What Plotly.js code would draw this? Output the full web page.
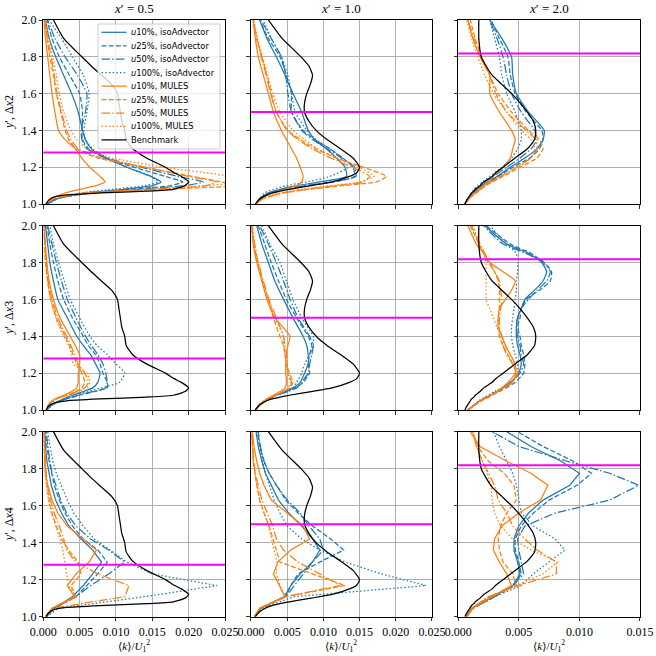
<!DOCTYPE html>
<html><head><meta charset="utf-8">
<script src="https://cdn.plot.ly/plotly-3.0.1.min.js"></script>
<style>html,body{margin:0;padding:0;background:#fff}#plot{width:656px;height:656px}</style>
</head><body><div id="plot"></div>
<script>
// ================= DATA =================
const columnLabels = ['0.5', '1.0', '2.0'];           // x'
const rowLabels = ['2', '3', '4'];                    // Δx
const probeLevels = [1.28, 1.5, 1.818];               // magenta line per column
const seriesNames = ['u10%, isoAdvector', 'u25%, isoAdvector', 'u50%, isoAdvector', 'u100%, isoAdvector',
                     'u10%, MULES', 'u25%, MULES', 'u50%, MULES', 'u100%, MULES', 'Benchmark'];
const xTicksWide = [0, 0.005, 0.01, 0.015, 0.02, 0.025];
const xTicksNarrow = [0, 0.005, 0.01, 0.015];
const yTicks = [1.0, 1.2, 1.4, 1.6, 1.8, 2.0];

// Benchmark (same in every row of a column)
const yBench = [1.0,1.02,1.04,1.05,1.06,1.07,1.08,1.1,1.12,1.15,1.17,1.2,1.25,1.3,1.35,1.4,1.45,1.5,1.55,1.6,1.65,1.7,1.75,1.8,1.9,2.0];
const bench_x05 = [0.0004,0.0007,0.0016,0.0032,0.0078,0.0142,0.0179,0.0195,0.0200,0.0190,0.0180,0.0168,0.0142,0.0123,0.0114,0.0112,0.0108,0.0106,0.0104,0.0102,0.0094,0.0080,0.0066,0.0053,0.0028,0.0014];
const bench_x10 = [0.0006,0.0010,0.0017,0.0022,0.0029,0.0040,0.0053,0.0083,0.0112,0.0136,0.0146,0.0150,0.0141,0.0124,0.0105,0.0090,0.0080,0.0074,0.0074,0.0077,0.0082,0.0085,0.0080,0.0069,0.0043,0.0024];
const bench_x20 = [0.00055,0.0007,0.0009,0.0010,0.0011,0.0013,0.0014,0.0018,0.0021,0.0028,0.0031,0.0037,0.0047,0.0057,0.0063,0.0064,0.0062,0.0057,0.0051,0.0044,0.0036,0.0028,0.0023,0.0019,0.0017,0.0017];

// y samples
const yFine = [1.0,1.03,1.06,1.08,1.1,1.12,1.15,1.2,1.25,1.3,1.35,1.4,1.5,1.6,1.7,1.8,1.9,2.0];
const yFineB = [1.0,1.05,1.1,1.15,1.2,1.25,1.3,1.35,1.4,1.45,1.5,1.55,1.6,1.65,1.7,1.75,1.8,1.85,1.9,2.0];
const yCoarse = [1.0,1.045,1.108,1.168,1.231,1.295,1.36,1.42,1.49,1.56,1.63,1.71,1.775,1.84,1.92,2.0];

// Δx2, x'=0.5  (yFine)
const dx2_x05_iso10  = [0.0005,0.0020,0.0060,0.0110,0.0150,0.0162,0.0148,0.0115,0.0085,0.0066,0.0058,0.0054,0.0048,0.0039,0.0028,0.0017,0.0008,0.0003];
const dx2_x05_iso25  = [0.0005,0.0020,0.0060,0.0120,0.0175,0.0192,0.0168,0.0125,0.0085,0.0062,0.0054,0.0053,0.0054,0.0050,0.0036,0.0022,0.0012,0.0005];
const dx2_x05_iso50  = [0.0005,0.0020,0.0065,0.0130,0.0195,0.0220,0.0185,0.0135,0.0088,0.0060,0.0053,0.0052,0.0058,0.0060,0.0047,0.0030,0.0016,0.0006];
const dx2_x05_iso100 = [0.0006,0.0020,0.0050,0.0095,0.0140,0.0158,0.0148,0.0115,0.0088,0.0068,0.0058,0.0056,0.0060,0.0063,0.0055,0.0040,0.0025,0.0008];
const dx2_x05_mul10  = [0.0003,0.0012,0.0030,0.0050,0.0073,0.0085,0.0078,0.0064,0.0053,0.0044,0.0030,0.0021,0.0016,0.0012,0.0009,0.0006,0.0003,0.0001];
const dx2_x05_mul25  = [0.0003,0.0015,0.0060,0.0160,0.0265,0.0245,0.0205,0.0140,0.0075,0.0045,0.0035,0.0030,0.0024,0.0018,0.0014,0.0009,0.0005,0.0002];
const dx2_x05_mul50  = [0.0003,0.0015,0.0060,0.0150,0.0225,0.0238,0.0200,0.0140,0.0080,0.0048,0.0038,0.0032,0.0025,0.0019,0.0015,0.0011,0.0006,0.0002];
const dx2_x05_mul100 = [0.0003,0.0015,0.0055,0.0140,0.0220,0.0270,0.0255,0.0165,0.0095,0.0060,0.0046,0.0038,0.0028,0.0022,0.0018,0.0013,0.0008,0.0003];
// Δx2, x'=1.0  (yFine)
const dx2_x10_iso10  = [0.0007,0.0012,0.0024,0.0040,0.0063,0.0095,0.0132,0.0130,0.0118,0.0104,0.0088,0.0079,0.0070,0.0058,0.0047,0.0035,0.0022,0.0012];
const dx2_x10_iso25  = [0.0007,0.0012,0.0026,0.0047,0.0077,0.0114,0.0143,0.0141,0.0127,0.0109,0.0088,0.0072,0.0056,0.0056,0.0049,0.0040,0.0024,0.0012];
const dx2_x10_iso50  = [0.0007,0.0012,0.0025,0.0045,0.0075,0.0112,0.0145,0.0143,0.0125,0.0105,0.0085,0.0070,0.0056,0.0051,0.0048,0.0042,0.0028,0.0014];
const dx2_x10_iso100 = [0.0008,0.0012,0.0019,0.0031,0.0049,0.0077,0.0109,0.0134,0.0125,0.0109,0.0090,0.0077,0.0061,0.0056,0.0051,0.0042,0.0028,0.0017];
const dx2_x10_mul10  = [0.0007,0.0015,0.0031,0.0047,0.0063,0.0070,0.0072,0.0068,0.0063,0.0056,0.0049,0.0042,0.0031,0.0024,0.0017,0.0010,0.0006,0.0003];
const dx2_x10_mul25  = [0.0007,0.0017,0.0045,0.0081,0.0127,0.0173,0.0187,0.0155,0.0118,0.0090,0.0068,0.0051,0.0035,0.0028,0.0022,0.0015,0.0008,0.0003];
const dx2_x10_mul50  = [0.0007,0.0017,0.0043,0.0075,0.0118,0.0155,0.0164,0.0140,0.0110,0.0085,0.0065,0.0050,0.0035,0.0027,0.0021,0.0014,0.0008,0.0003];
const dx2_x10_mul100 = [0.0007,0.0016,0.0040,0.0070,0.0110,0.0150,0.0170,0.0150,0.0118,0.0092,0.0074,0.0058,0.0040,0.0030,0.0023,0.0016,0.0009,0.0004];
// Δx2, x'=2.0  (yFine)
const dx2_x20_iso10  = [0.00055,0.0008,0.0012,0.0015,0.0019,0.0024,0.0032,0.0043,0.0055,0.0065,0.0070,0.0071,0.0058,0.0048,0.0045,0.0044,0.0036,0.0026];
const dx2_x20_iso25  = [0.00055,0.0008,0.0012,0.0016,0.0021,0.0026,0.0033,0.0045,0.0059,0.0067,0.0070,0.0069,0.0056,0.0047,0.0043,0.0041,0.0034,0.0027];
const dx2_x20_iso50  = [0.00055,0.0008,0.0012,0.0015,0.0018,0.0022,0.0029,0.0040,0.0051,0.0060,0.0065,0.0063,0.0052,0.0044,0.0040,0.0037,0.0032,0.0026];
const dx2_x20_iso100 = [0.00055,0.0008,0.0011,0.0013,0.0016,0.0020,0.0026,0.0036,0.0044,0.0049,0.0052,0.0052,0.0047,0.0040,0.0036,0.0034,0.0030,0.0026];
const dx2_x20_mul10  = [0.00055,0.0009,0.0014,0.0017,0.0021,0.0025,0.0029,0.0037,0.0043,0.0045,0.0047,0.0044,0.0034,0.0026,0.0026,0.0018,0.0012,0.0008];
const dx2_x20_mul25  = [0.00055,0.0009,0.0015,0.0019,0.0023,0.0028,0.0037,0.0051,0.0065,0.0070,0.0067,0.0058,0.0044,0.0033,0.0026,0.0019,0.0014,0.0010];
const dx2_x20_mul50  = [0.00055,0.0009,0.0014,0.0018,0.0022,0.0027,0.0035,0.0048,0.0060,0.0065,0.0064,0.0056,0.0040,0.0031,0.0026,0.0018,0.0013,0.0008];
const dx2_x20_mul100 = [0.00055,0.0009,0.0014,0.0018,0.0022,0.0027,0.0035,0.0049,0.0060,0.0063,0.0060,0.0052,0.0040,0.0029,0.0022,0.0016,0.0011,0.0007];

// Δx3, x'=0.5  (yFine)
const dx3_x05_iso10  = [0.0004,0.0012,0.0028,0.0040,0.0055,0.0068,0.0075,0.0078,0.0072,0.0065,0.0055,0.0046,0.0033,0.0020,0.0014,0.0009,0.0006,0.0003];
const dx3_x05_iso25  = [0.0004,0.0014,0.0032,0.0050,0.0070,0.0088,0.0088,0.0082,0.0078,0.0072,0.0062,0.0055,0.0040,0.0028,0.0020,0.0014,0.0009,0.0005];
const dx3_x05_iso50  = [0.0004,0.0013,0.0030,0.0048,0.0068,0.0086,0.0088,0.0086,0.0082,0.0075,0.0066,0.0058,0.0045,0.0033,0.0025,0.0018,0.0012,0.0006];
const dx3_x05_iso100 = [0.0005,0.0013,0.0030,0.0045,0.0062,0.0080,0.0105,0.0112,0.0100,0.0088,0.0074,0.0064,0.0050,0.0037,0.0029,0.0021,0.0014,0.0009];
const dx3_x05_mul10  = [0.0005,0.0007,0.0016,0.0028,0.0039,0.0046,0.0048,0.0048,0.0050,0.0050,0.0044,0.0037,0.0023,0.0014,0.0008,0.0005,0.0003,0.0001];
const dx3_x05_mul25  = [0.0005,0.0007,0.0017,0.0032,0.0044,0.0053,0.0057,0.0053,0.0046,0.0041,0.0036,0.0030,0.0018,0.0010,0.0006,0.0003,0.0002,0.0001];
const dx3_x05_mul50  = [0.0005,0.0008,0.0018,0.0034,0.0046,0.0057,0.0062,0.0057,0.0048,0.0043,0.0038,0.0032,0.0020,0.0012,0.0007,0.0004,0.0002,0.0001];
const dx3_x05_mul100 = [0.0005,0.0008,0.0018,0.0034,0.0048,0.0060,0.0064,0.0060,0.0041,0.0039,0.0035,0.0028,0.0017,0.0010,0.0006,0.0003,0.0002,0.0001];
// Δx3, x'=1.0  (yFine)
const dx3_x10_iso10  = [0.0006,0.0012,0.0024,0.0035,0.0047,0.0058,0.0068,0.0074,0.0079,0.0079,0.0077,0.0072,0.0058,0.0045,0.0033,0.0024,0.0015,0.0008];
const dx3_x10_iso25  = [0.0006,0.0012,0.0024,0.0035,0.0049,0.0061,0.0072,0.0081,0.0079,0.0081,0.0084,0.0079,0.0063,0.0049,0.0038,0.0028,0.0019,0.0010];
const dx3_x10_iso50  = [0.0006,0.0012,0.0024,0.0035,0.0051,0.0063,0.0070,0.0079,0.0081,0.0084,0.0086,0.0081,0.0065,0.0054,0.0045,0.0035,0.0024,0.0012];
const dx3_x10_iso100 = [0.0006,0.0012,0.0022,0.0035,0.0049,0.0058,0.0063,0.0070,0.0074,0.0081,0.0086,0.0086,0.0070,0.0058,0.0049,0.0040,0.0026,0.0015];
const dx3_x10_mul10  = [0.0007,0.0012,0.0022,0.0031,0.0040,0.0047,0.0049,0.0048,0.0048,0.0049,0.0051,0.0054,0.0033,0.0022,0.0015,0.0008,0.0003,0.0001];
const dx3_x10_mul25  = [0.0007,0.0012,0.0022,0.0035,0.0045,0.0054,0.0058,0.0053,0.0049,0.0047,0.0045,0.0040,0.0031,0.0024,0.0016,0.0009,0.0004,0.0001];
const dx3_x10_mul50  = [0.0007,0.0012,0.0022,0.0034,0.0044,0.0053,0.0056,0.0051,0.0050,0.0049,0.0047,0.0045,0.0035,0.0025,0.0017,0.0010,0.0005,0.0001];
const dx3_x10_mul100 = [0.0007,0.0013,0.0024,0.0035,0.0045,0.0051,0.0054,0.0051,0.0049,0.0047,0.0045,0.0045,0.0033,0.0024,0.0016,0.0010,0.0005,0.0002];
// Δx3, x'=2.0  (yFineB)
const dx3_x20_iso10  = [0.0008,0.0018,0.0032,0.0043,0.0050,0.0052,0.0051,0.0049,0.0048,0.0048,0.0049,0.0052,0.0055,0.0063,0.0070,0.0073,0.0069,0.0058,0.0040,0.0022];
const dx3_x20_iso25  = [0.0008,0.0019,0.0034,0.0047,0.0054,0.0055,0.0054,0.0052,0.0051,0.0049,0.0051,0.0052,0.0056,0.0067,0.0076,0.0077,0.0071,0.0060,0.0043,0.0023];
const dx3_x20_iso50  = [0.0008,0.0018,0.0032,0.0043,0.0051,0.0054,0.0052,0.0051,0.0049,0.0048,0.0049,0.0052,0.0058,0.0065,0.0073,0.0076,0.0070,0.0056,0.0037,0.0021];
const dx3_x20_iso100 = [0.0008,0.0017,0.0030,0.0044,0.0049,0.0049,0.0047,0.0045,0.0044,0.0044,0.0045,0.0046,0.0047,0.0048,0.0048,0.0049,0.0049,0.0048,0.0040,0.0026];
const dx3_x20_mul10  = [0.0008,0.0018,0.0032,0.0041,0.0047,0.0047,0.0043,0.0039,0.0036,0.0033,0.0033,0.0034,0.0039,0.0044,0.0047,0.0037,0.0026,0.0021,0.0015,0.0008];
const dx3_x20_mul25  = [0.0008,0.0019,0.0033,0.0044,0.0048,0.0045,0.0041,0.0037,0.0034,0.0033,0.0033,0.0034,0.0034,0.0034,0.0033,0.0030,0.0025,0.0021,0.0017,0.0010];
const dx3_x20_mul50  = [0.0008,0.0019,0.0033,0.0045,0.0049,0.0045,0.0040,0.0037,0.0036,0.0034,0.0034,0.0035,0.0036,0.0035,0.0034,0.0030,0.0026,0.0022,0.0018,0.0011];
const dx3_x20_mul100 = [0.0008,0.0018,0.0032,0.0044,0.0049,0.0047,0.0043,0.0039,0.0036,0.0032,0.0029,0.0026,0.0023,0.0023,0.0023,0.0023,0.0023,0.0021,0.0018,0.0012];

// Δx4, x'=0.5  (yCoarse)
const dx4_x05_iso10  = [0.0004,0.0015,0.0040,0.0055,0.0068,0.0080,0.0068,0.0052,0.0035,0.0025,0.0017,0.0011,0.0008,0.0005,0.0003,0.0002];
const dx4_x05_iso25  = [0.0004,0.0015,0.0045,0.0060,0.0075,0.0088,0.0075,0.0055,0.0040,0.0030,0.0022,0.0015,0.0011,0.0008,0.0005,0.0003];
const dx4_x05_iso50  = [0.0004,0.0015,0.0045,0.0065,0.0090,0.0112,0.0090,0.0065,0.0045,0.0032,0.0024,0.0017,0.0012,0.0009,0.0006,0.0004];
const dx4_x05_iso100 = [0.0005,0.0020,0.0140,0.0239,0.0150,0.0115,0.0092,0.0070,0.0055,0.0042,0.0033,0.0025,0.0018,0.0013,0.0009,0.0006];
const dx4_x05_mul10  = [0.0003,0.0012,0.0043,0.0033,0.0045,0.0063,0.0073,0.0055,0.0033,0.0020,0.0012,0.0006,0.0003,0.0002,0.0001,0.0001];
const dx4_x05_mul25  = [0.0003,0.0012,0.0045,0.0038,0.0052,0.0048,0.0035,0.0025,0.0018,0.0012,0.0008,0.0005,0.0003,0.0002,0.0001,0.0001];
const dx4_x05_mul50  = [0.0004,0.0012,0.0112,0.0118,0.0075,0.0045,0.0032,0.0028,0.0022,0.0015,0.0010,0.0006,0.0004,0.0003,0.0002,0.0001];
const dx4_x05_mul100 = [0.0003,0.0012,0.0045,0.0035,0.0032,0.0030,0.0027,0.0023,0.0017,0.0011,0.0007,0.0004,0.0003,0.0002,0.0001,0.0001];
// Δx4, x'=1.0  (yCoarse)
const dx4_x10_iso10  = [0.0005,0.0013,0.0046,0.0055,0.0068,0.0085,0.0095,0.0085,0.0070,0.0052,0.0038,0.0028,0.0020,0.0015,0.0010,0.0007];
const dx4_x10_iso25  = [0.0005,0.0013,0.0048,0.0055,0.0065,0.0095,0.0128,0.0110,0.0085,0.0065,0.0048,0.0035,0.0025,0.0018,0.0012,0.0009];
const dx4_x10_iso50  = [0.0005,0.0013,0.0048,0.0060,0.0072,0.0085,0.0100,0.0095,0.0080,0.0068,0.0050,0.0035,0.0025,0.0018,0.0013,0.0010];
const dx4_x10_iso100 = [0.0006,0.0015,0.0060,0.0242,0.0180,0.0130,0.0095,0.0070,0.0050,0.0040,0.0032,0.0025,0.0020,0.0016,0.0012,0.0009];
const dx4_x10_mul10  = [0.0005,0.0012,0.0047,0.0039,0.0031,0.0037,0.0055,0.0081,0.0072,0.0050,0.0028,0.0018,0.0012,0.0008,0.0004,0.0002];
const dx4_x10_mul25  = [0.0005,0.0012,0.0048,0.0130,0.0085,0.0040,0.0035,0.0030,0.0025,0.0018,0.0012,0.0008,0.0005,0.0003,0.0002,0.0001];
const dx4_x10_mul50  = [0.0005,0.0012,0.0048,0.0123,0.0095,0.0065,0.0045,0.0035,0.0030,0.0022,0.0015,0.0010,0.0006,0.0004,0.0002,0.0001];
const dx4_x10_mul100 = [0.0005,0.0012,0.0048,0.0040,0.0035,0.0036,0.0032,0.0028,0.0024,0.0018,0.0012,0.0008,0.0005,0.0003,0.0002,0.0001];
// Δx4, x'=2.0  (yCoarse)
const dx4_x20_iso10  = [0.0006,0.0011,0.0028,0.0045,0.0051,0.0049,0.0046,0.0046,0.0050,0.0058,0.0070,0.0092,0.0100,0.0085,0.0060,0.0040];
const dx4_x20_iso25  = [0.0007,0.0012,0.0030,0.0046,0.0052,0.0050,0.0047,0.0047,0.0052,0.0062,0.0075,0.0098,0.0110,0.0095,0.0070,0.0049];
const dx4_x20_iso50  = [0.0007,0.0012,0.0030,0.0045,0.0054,0.0052,0.0050,0.0049,0.0055,0.0080,0.0125,0.0149,0.0125,0.0090,0.0050,0.0028];
const dx4_x20_iso100 = [0.0007,0.0012,0.0030,0.0052,0.0062,0.0075,0.0088,0.0080,0.0062,0.0052,0.0050,0.0048,0.0045,0.0040,0.0034,0.0029];
const dx4_x20_mul10  = [0.0007,0.0012,0.0028,0.0044,0.0040,0.0034,0.0029,0.0030,0.0036,0.0050,0.0068,0.0074,0.0060,0.0040,0.0018,0.0010];
const dx4_x20_mul25  = [0.0007,0.0011,0.0026,0.0048,0.0045,0.0037,0.0034,0.0033,0.0035,0.0040,0.0048,0.0046,0.0038,0.0025,0.0016,0.0012];
const dx4_x20_mul50  = [0.0007,0.0011,0.0025,0.0050,0.0081,0.0081,0.0065,0.0055,0.0045,0.0040,0.0033,0.0030,0.0025,0.0020,0.0015,0.0012];
const dx4_x20_mul100 = [0.0007,0.0011,0.0025,0.0048,0.0070,0.0082,0.0060,0.0045,0.0035,0.0030,0.0028,0.0027,0.0024,0.0020,0.0015,0.0012];

// ================= ASSEMBLY =================
const panels = [
  {y: yFine,   b: bench_x05, s: [dx2_x05_iso10,dx2_x05_iso25,dx2_x05_iso50,dx2_x05_iso100,dx2_x05_mul10,dx2_x05_mul25,dx2_x05_mul50,dx2_x05_mul100]},
  {y: yFine,   b: bench_x10, s: [dx2_x10_iso10,dx2_x10_iso25,dx2_x10_iso50,dx2_x10_iso100,dx2_x10_mul10,dx2_x10_mul25,dx2_x10_mul50,dx2_x10_mul100]},
  {y: yFine,   b: bench_x20, s: [dx2_x20_iso10,dx2_x20_iso25,dx2_x20_iso50,dx2_x20_iso100,dx2_x20_mul10,dx2_x20_mul25,dx2_x20_mul50,dx2_x20_mul100]},
  {y: yFine,   b: bench_x05, s: [dx3_x05_iso10,dx3_x05_iso25,dx3_x05_iso50,dx3_x05_iso100,dx3_x05_mul10,dx3_x05_mul25,dx3_x05_mul50,dx3_x05_mul100]},
  {y: yFine,   b: bench_x10, s: [dx3_x10_iso10,dx3_x10_iso25,dx3_x10_iso50,dx3_x10_iso100,dx3_x10_mul10,dx3_x10_mul25,dx3_x10_mul50,dx3_x10_mul100]},
  {y: yFineB,  b: bench_x20, s: [dx3_x20_iso10,dx3_x20_iso25,dx3_x20_iso50,dx3_x20_iso100,dx3_x20_mul10,dx3_x20_mul25,dx3_x20_mul50,dx3_x20_mul100]},
  {y: yCoarse, b: bench_x05, s: [dx4_x05_iso10,dx4_x05_iso25,dx4_x05_iso50,dx4_x05_iso100,dx4_x05_mul10,dx4_x05_mul25,dx4_x05_mul50,dx4_x05_mul100]},
  {y: yCoarse, b: bench_x10, s: [dx4_x10_iso10,dx4_x10_iso25,dx4_x10_iso50,dx4_x10_iso100,dx4_x10_mul10,dx4_x10_mul25,dx4_x10_mul50,dx4_x10_mul100]},
  {y: yCoarse, b: bench_x20, s: [dx4_x20_iso10,dx4_x20_iso25,dx4_x20_iso50,dx4_x20_iso100,dx4_x20_mul10,dx4_x20_mul25,dx4_x20_mul50,dx4_x20_mul100]}
];

const BLUE = '#1f77b4', ORANGE = '#ff7f0e';
const DASH = '5px,2.2px', DASHDOT = '8.5px,2.2px,1.5px,2.2px', DOT = '1.5px,2.2px';
const styles = [
  {color: BLUE, dash: 'solid'}, {color: BLUE, dash: DASH}, {color: BLUE, dash: DASHDOT}, {color: BLUE, dash: DOT},
  {color: ORANGE, dash: 'solid'}, {color: ORANGE, dash: DASH}, {color: ORANGE, dash: DASHDOT}, {color: ORANGE, dash: DOT},
  {color: '#000000', dash: 'solid'}
];
const LW = 1.25;

const colDom = [[0.066, 0.343], [0.3826, 0.6585], [0.6985, 0.9756]];
const rowDom = [[0.689, 0.9695], [0.375, 0.656], [0.060, 0.342]];
const SERIF = '"Liberation Serif", "DejaVu Serif", serif';

const traces = [];
const layout = {
  width: 656, height: 656,
  margin: {l: 0, r: 0, t: 0, b: 0},
  paper_bgcolor: '#ffffff', plot_bgcolor: '#ffffff',
  showlegend: false,
  font: {family: SERIF, size: 12, color: '#000000'},
  shapes: [], annotations: []
};

panels.forEach((p, i) => {
  const r = Math.floor(i / 3), c = i % 3;
  const xn = i === 0 ? 'x' : 'x' + (i + 1);
  const yn = i === 0 ? 'y' : 'y' + (i + 1);
  const smooth = r < 2;
  p.s.forEach((xs, k) => {
    traces.push({
      type: 'scatter', mode: 'lines', x: xs, y: p.y, xaxis: xn, yaxis: yn,
      name: seriesNames[k], hoverinfo: 'skip',
      line: {color: styles[k].color, dash: styles[k].dash, width: LW,
             shape: smooth ? 'spline' : 'linear', smoothing: 0.5}
    });
  });
  traces.push({
    type: 'scatter', mode: 'lines', x: p.b, y: yBench, xaxis: xn, yaxis: yn,
    name: seriesNames[8], hoverinfo: 'skip',
    line: {color: '#000000', width: LW, shape: 'spline', smoothing: 0.5}
  });

  const axCommon = {
    showline: true, linecolor: '#000000', linewidth: 1, mirror: true,
    showgrid: true, gridcolor: '#b0b0b0', gridwidth: 1, zeroline: false,
    ticks: 'outside', ticklen: 3.5, tickwidth: 0.8, tickcolor: '#000000',
    tickfont: {family: SERIF, size: 12, color: '#000000'}
  };
  layout[i === 0 ? 'xaxis' : 'xaxis' + (i + 1)] = Object.assign({}, axCommon, {
    domain: colDom[c], anchor: yn,
    range: c < 2 ? [0, 0.025] : [0, 0.015],
    tickmode: 'array', tickvals: c < 2 ? xTicksWide : xTicksNarrow,
    ticktext: (c < 2 ? xTicksWide : xTicksNarrow).map(v => v.toFixed(3)),
    showticklabels: r === 2
  });
  layout[i === 0 ? 'yaxis' : 'yaxis' + (i + 1)] = Object.assign({}, axCommon, {
    domain: rowDom[r], anchor: xn, range: [1, 2],
    tickmode: 'array', tickvals: yTicks, ticktext: yTicks.map(v => v.toFixed(1)),
    showticklabels: c === 0
  });

  // magenta probe line
  layout.shapes.push({
    type: 'line', xref: xn + ' domain', yref: yn, x0: 0, x1: 1,
    y0: probeLevels[c], y1: probeLevels[c],
    line: {color: '#ff00ff', width: 2}, layer: 'above'
  });
});

// column titles and x titles
columnLabels.forEach((lab, c) => {
  layout.annotations.push({
    xref: 'paper', yref: 'paper', x: (colDom[c][0] + colDom[c][1]) / 2, y: 1 - 8 / 656,
    xanchor: 'center', yanchor: 'middle', showarrow: false,
    text: '<i>x</i>′ = ' + lab, font: {family: SERIF, size: 13, color: '#000'}
  });
  layout.annotations.push({
    xref: 'paper', yref: 'paper', x: (colDom[c][0] + colDom[c][1]) / 2, y: 1 - 646 / 656,
    xanchor: 'center', yanchor: 'middle', showarrow: false,
    text: '⟨<i>k</i>⟩/<i>U</i><sub>1</sub><sup>2</sup>', font: {family: SERIF, size: 11, color: '#000'}
  });
});
// row titles
rowLabels.forEach((lab, r) => {
  layout.annotations.push({
    xref: 'paper', yref: 'paper', x: 9 / 656, y: (rowDom[r][0] + rowDom[r][1]) / 2,
    xanchor: 'center', yanchor: 'middle', showarrow: false, textangle: -90,
    text: '<i>y</i>′, Δ<i>x</i>' + lab, font: {family: SERIF, size: 12, color: '#000'}
  });
});

// legend (drawn in the first panel, top right)
const P = 656;
layout.shapes.push({
  type: 'rect', xref: 'paper', yref: 'paper', x0: 98 / P, x1: 220 / P, y0: 1 - 149 / P, y1: 1 - 24 / P,
  fillcolor: 'rgba(255,255,255,0.8)', line: {color: '#cccccc', width: 1}, layer: 'above'
});
seriesNames.forEach((nm, k) => {
  const cy = 32.3 + k * 13.45;
  layout.shapes.push({
    type: 'line', xref: 'paper', yref: 'paper', x0: 101.5 / P, x1: 126.5 / P, y0: 1 - cy / P, y1: 1 - cy / P,
    line: {color: styles[k].color, dash: styles[k].dash, width: LW}, layer: 'above'
  });
  const label = nm.startsWith('u') ? '<i>u</i>' + nm.slice(1) : nm;
  layout.annotations.push({
    xref: 'paper', yref: 'paper', x: 129 / P, y: 1 - cy / P, xanchor: 'left', yanchor: 'middle',
    showarrow: false, text: label, font: {family: 'DejaVu Sans', size: 8.3, color: '#000'}
  });
});

Plotly.newPlot('plot', traces, layout, {staticPlot: true, displayModeBar: false});
</script>
</body></html>
